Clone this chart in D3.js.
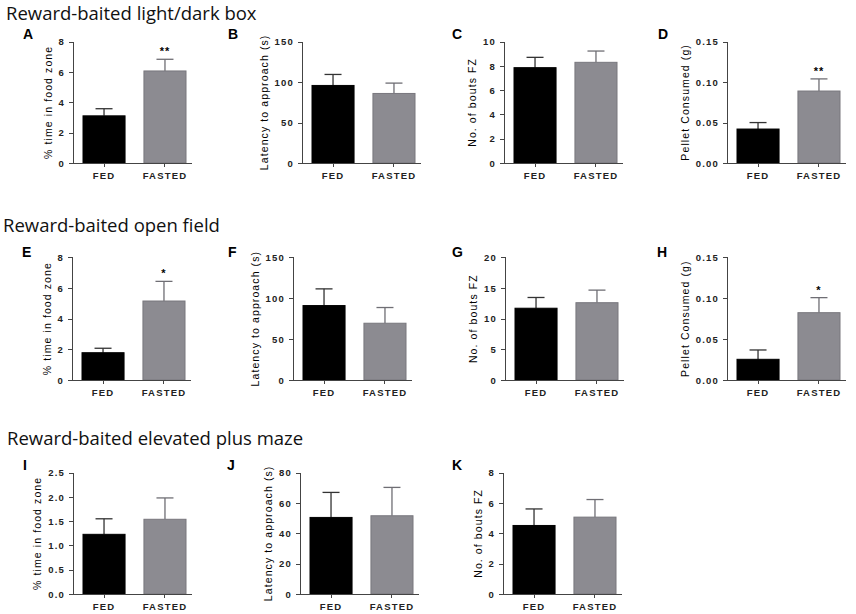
<!DOCTYPE html>
<html>
<head>
<meta charset="utf-8">
<script src="https://cdn.jsdelivr.net/npm/d3@7"></script>
<style>
  body { margin: 0; background: #fff; }
  .axis path, .axis line { stroke: #444; shape-rendering: crispEdges; }
  .axis text { font-family: "Liberation Sans", Arial, sans-serif; font-size: 9.5px; font-weight: bold; fill: #222; letter-spacing: 1.2px; }
</style>
</head>
<body>
<div id="mainDiv"></div>
<script>
'use strict';

var myApp = {};

// --- data ---
myApp.groups = ["FED", "FASTED"];
myApp.sectionTitles = ["Reward-baited light/dark box", "Reward-baited open field", "Reward-baited elevated plus maze"];
myApp.panelIds = ["A", "B", "C", "D", "E", "F", "G", "H", "I", "J", "K"];
myApp.yTitles = ["% time in food zone", "Latency to approach (s)", "No. of bouts FZ", "Pellet Consumed (g)",
                 "% time in food zone", "Latency to approach (s)", "No. of bouts FZ", "Pellet Consumed (g)",
                 "% time in food zone", "Latency to approach (s)", "No. of bouts FZ"];
myApp.fedMeans    = [3.11, 95.9, 7.86, 0.042, 1.78, 91.0, 11.7, 0.0253, 1.23, 50.5, 4.52];
myApp.fedSem      = [0.47, 13.6, 0.85, 0.008, 0.29, 20.4, 1.75, 0.0114, 0.32, 16.5, 1.09];
myApp.fastedMeans = [6.07, 86.0, 8.30, 0.089, 5.15, 69.4, 12.6, 0.0823, 1.54, 51.6, 5.07];
myApp.fastedSem   = [0.77, 12.8, 0.93, 0.015, 1.28, 19.2, 2.05, 0.0184, 0.44, 18.7, 1.16];
myApp.yMax   = [8, 150, 10, 0.15, 8, 150, 20, 0.15, 2.5, 80, 8];
myApp.yStep  = [2, 50, 2, 0.05, 2, 50, 5, 0.05, 0.5, 20, 2];
myApp.yDecimals = [0, 0, 0, 2, 0, 0, 0, 2, 1, 0, 0];
myApp.stars  = ["**", "", "", "**", "*", "", "", "*", "", "", ""];

// --- layout ---
myApp.panelRow = [0, 0, 0, 0, 1, 1, 1, 1, 2, 2, 2];
myApp.axisX    = [73, 302, 504, 727, 72, 293, 505, 727, 73, 300, 503];
myApp.letterX  = [23, 228, 452, 658, 22, 228, 452, 657, 23, 227, 452];
myApp.rowTop    = [41.7, 257.3, 472.7];
myApp.rowBottom = [163, 380, 594];
myApp.letterY   = [39, 257, 470];
myApp.titleX    = [6, 3, 7];
myApp.titleY    = [20, 232, 445];

myApp.fedColor = "#000000";
myApp.fastedColor = "#8c8b91";

myApp.appendSvg = function (element, w, h)
{
    return d3.select(element).append("svg")
        .attr("width", w)
        .attr("height", h);
};

myApp.drawPanel = function (svg, i)
{
    var row = myApp.panelRow[i];
    var x0 = myApp.axisX[i];
    var top = myApp.rowTop[row], bottom = myApp.rowBottom[row];

    var x = d3.scaleBand()
        .domain(myApp.groups)
        .range([x0 + 10, x0 + 113])
        .paddingInner(0.31)
        .paddingOuter(0);

    var y = d3.scaleLinear()
        .domain([0, myApp.yMax[i]])
        .range([bottom, top]);

    var ticks = d3.range(0, myApp.yMax[i] + myApp.yStep[i] / 2, myApp.yStep[i]);
    var g = svg.append("g");

    var means = [myApp.fedMeans[i], myApp.fastedMeans[i]];
    var sems = [myApp.fedSem[i], myApp.fastedSem[i]];
    var rows = myApp.groups.map(function (k, j) { return { group: k, mean: means[j], sem: sems[j] }; });

    // error bars (upper only)
    var eb = g.selectAll(".eb").data(rows).enter().append("g").attr("class", "eb");
    eb.append("line")
        .attr("x1", function (d) { return x(d.group) + x.bandwidth() / 2; })
        .attr("x2", function (d) { return x(d.group) + x.bandwidth() / 2; })
        .attr("y1", function (d) { return y(d.mean); })
        .attr("y2", function (d) { return y(d.mean + d.sem); });
    eb.append("line")
        .attr("x1", function (d) { return x(d.group) + x.bandwidth() / 2 - 8.5; })
        .attr("x2", function (d) { return x(d.group) + x.bandwidth() / 2 + 8.5; })
        .attr("y1", function (d) { return y(d.mean + d.sem); })
        .attr("y2", function (d) { return y(d.mean + d.sem); });
    eb.selectAll("line")
        .attr("stroke", function () { return d3.select(this.parentNode).datum().group === "FED" ? "#333" : "#6f6e74"; })
        .attr("stroke-width", 1.3);

    g.selectAll("rect").data(rows).enter().append("rect")
        .attr("x", function (d) { return x(d.group); })
        .attr("y", function (d) { return y(d.mean); })
        .attr("width", x.bandwidth())
        .attr("height", function (d) { return bottom - y(d.mean); })
        .attr("fill", function (d) { return d.group === "FED" ? myApp.fedColor : myApp.fastedColor; })
        .attr("stroke", function (d) { return d.group === "FED" ? "#000" : "#78777d"; })
        .attr("stroke-width", 1);

    // y axis
    var ya = g.append("g").attr("class", "axis")
        .attr("transform", "translate(" + x0 + ",0)")
        .call(d3.axisLeft(y).tickValues(ticks).tickSize(4).tickPadding(4)
            .tickFormat(function (d) { return d.toFixed(myApp.yDecimals[i]); }));

    // x axis
    var xa = g.append("g").attr("class", "axis")
        .attr("transform", "translate(0," + bottom + ")")
        .call(d3.axisBottom(x).tickSize(4).tickPadding(5.5).tickSizeOuter(0));
    xa.select(".domain").attr("d", "M" + x0 + ",0H" + (x0 + 119));

    // y title, left of tick labels
    var bb = ya.node().getBBox();
    g.append("text")
        .attr("transform", "translate(" + (x0 + bb.x - 7) + "," + ((top + bottom) / 2) + ") rotate(-90)")
        .attr("text-anchor", "middle")
        .attr("font-family", "Liberation Sans, Arial, sans-serif")
        .attr("font-size", "10.5px")
        .attr("letter-spacing", "1.1px")
        .attr("fill", "#000")
        .text(myApp.yTitles[i]);

    // panel letter
    svg.append("text")
        .attr("x", myApp.letterX[i])
        .attr("y", myApp.letterY[row])
        .attr("font-family", "Liberation Sans, Arial, sans-serif")
        .attr("font-weight", "bold")
        .attr("font-size", "14px")
        .text(myApp.panelIds[i]);

    // significance stars
    if (myApp.stars[i])
    {
        g.append("text")
            .attr("x", x("FASTED") + x.bandwidth() / 2)
            .attr("y", y(myApp.fastedMeans[i] + myApp.fastedSem[i]) - 4)
            .attr("text-anchor", "middle")
            .attr("font-family", "Liberation Sans, Arial, sans-serif")
            .attr("font-weight", "bold")
            .attr("font-size", "11px")
            .attr("letter-spacing", "1px")
            .text(myApp.stars[i]);
    }
};

myApp.run = function ()
{
    var svg = myApp.appendSvg("#mainDiv", 856, 614);

    svg.selectAll(".section").data(myApp.sectionTitles).enter().append("text")
        .attr("class", "section")
        .attr("x", function (d, i) { return myApp.titleX[i]; })
        .attr("y", function (d, i) { return myApp.titleY[i]; })
        .attr("font-family", "Open Sans, sans-serif")
        .attr("font-size", "18.5px")
        .attr("fill", "#111")
        .text(function (d) { return d; });

    for (var i = 0; i < myApp.panelIds.length; i++)
    {
        myApp.drawPanel(svg, i);
    }
};

window.onload = myApp.run;
</script>
</body>
</html>
